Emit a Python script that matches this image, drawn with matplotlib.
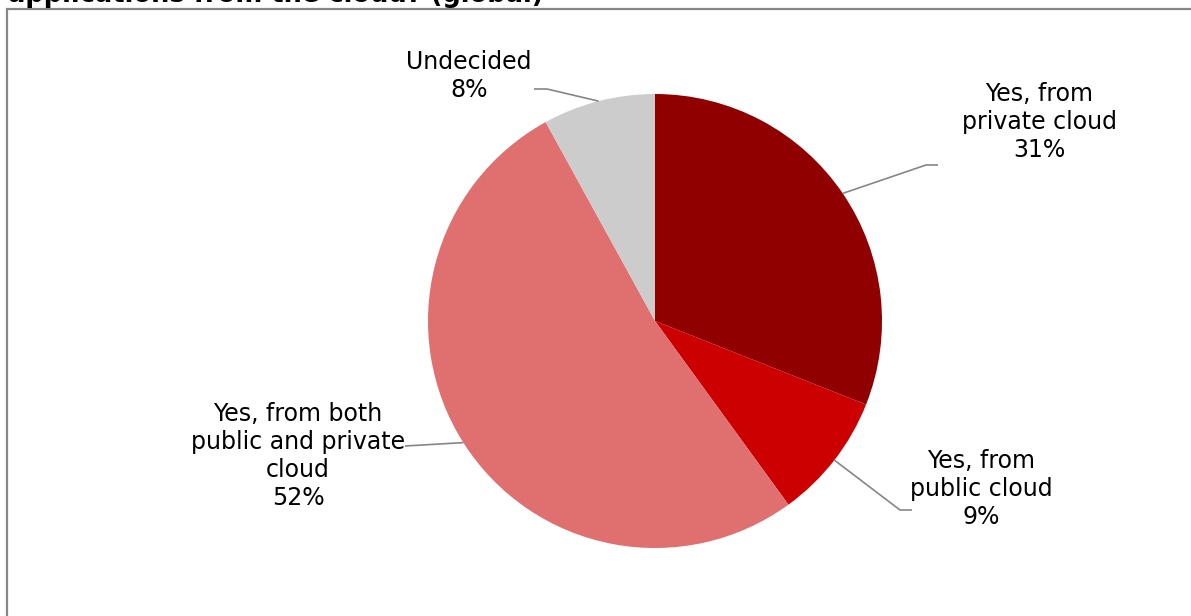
import numpy as np
import matplotlib
matplotlib.use("Agg")
import matplotlib.pyplot as plt
from matplotlib.patches import Rectangle

# data
labels = ["Yes, from\nprivate cloud", "Yes, from\npublic cloud",
          "Yes, from both\npublic and private\ncloud", "Undecided"]
shares = [31, 9, 52, 8]
colors = ["#900000", "#CC0000", "#E07070", "#CCCCCC"]

W, H = 1191, 616
fig = plt.figure(figsize=(W / 100, H / 100), dpi=100)
ax = fig.add_axes([0, 0, 1, 1])

cx, cy, r = 655, H - 321, 227
wedges, _ = ax.pie(shares, colors=colors, startangle=90, counterclock=False,
                   center=(cx, cy), radius=r, frame=True,
                   wedgeprops=dict(linewidth=0))
ax.set_xlim(0, W)
ax.set_ylim(0, H)
ax.axis("off")

# label layout: text centre, elbow point, end point (pixels from top-left)
label_pos = [(1039, 122), (981, 489), (298, 456), (469, 76)]
elbows = [(926, 165), (900, 510), None, (547, 89)]
ends = [(938, 165), (912, 510), (405, 446), (534, 89)]

for w, lab, pct, pos, elb, end in zip(wedges, labels, shares, label_pos, elbows, ends):
    mid = np.deg2rad((w.theta1 + w.theta2) / 2)
    sx, sy = cx + r * np.cos(mid), cy + r * np.sin(mid)
    xs = [sx] + ([elb[0]] if elb else []) + [end[0]]
    ys = [sy] + ([H - elb[1]] if elb else []) + [H - end[1]]
    ax.plot(xs, ys, color="#868686", lw=1.2, solid_capstyle="butt")
    ax.text(pos[0], H - pos[1], f"{lab}\n{pct}%", ha="center", va="center",
            fontsize=17, linespacing=1.22, color="black")

# chart border (extends past the right/bottom edges)
fig.patches.append(Rectangle((7 / W, -0.1), 1.2, 1 - 9 / H + 0.1,
                             transform=fig.transFigure, fill=False,
                             edgecolor="#868686", lw=1.6))

fig.text(8 / W, 1 - 2 / H, "applications from the cloud? (global)",
         fontsize=18.5, fontweight="bold", ha="left", va="baseline")

fig.savefig("out.png", dpi=100)
